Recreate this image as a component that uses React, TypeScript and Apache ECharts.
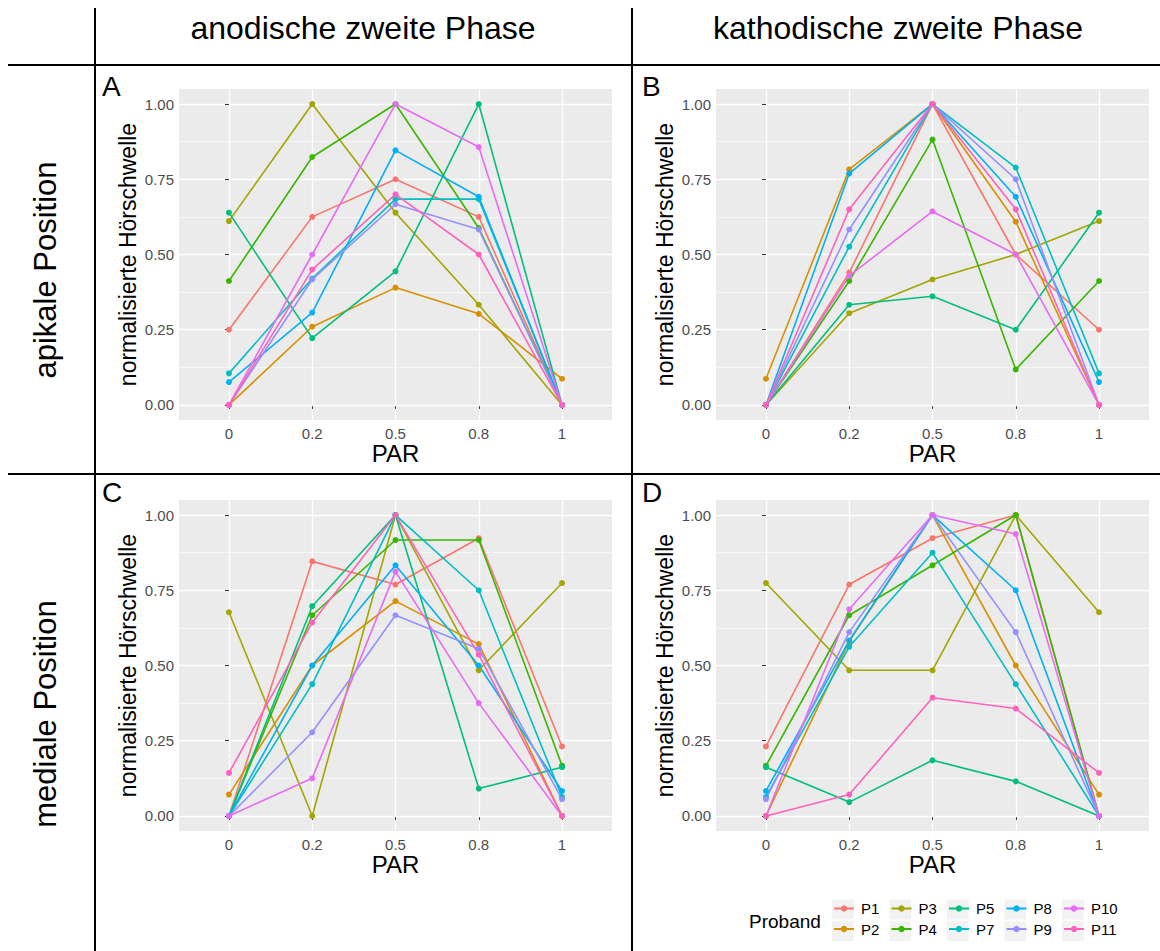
import React, { useEffect, useRef } from "react";
import * as echarts from "echarts";

const parLabels = ["0", "0.2", "0.5", "0.8", "1"];
const probands = ["P1", "P2", "P3", "P4", "P5", "P7", "P8", "P9", "P10", "P11"];
const colors = ["#F8766D", "#D89000", "#A3A500", "#39B600", "#00BF7D", "#00BFC4", "#00B0F6", "#9590FF", "#E76BF3", "#FF62BC"];
const yMajor = [0, 0.25, 0.5, 0.75, 1];
const yMinor = [0.125, 0.375, 0.625, 0.875];

// A: anodische zweite Phase, apikale Position
const anodApikal: number[][] = [
  [0.25, 0.625, 0.75, 0.625, 0],
  [0, 0.26, 0.39, 0.303, 0.087],
  [0.611, 1.0, 0.639, 0.333, 0],
  [0.412, 0.824, 1.0, 0.588, 0],
  [0.639, 0.222, 0.444, 1.0, 0],
  [0.105, 0.42, 0.684, 0.684, 0],
  [0.076, 0.307, 0.846, 0.692, 0],
  [0, 0.417, 0.667, 0.583, 0],
  [0, 0.5, 1.0, 0.857, 0],
  [0, 0.45, 0.7, 0.5, 0],
];
// B: kathodische zweite Phase, apikale Position
const kathApikal: number[][] = [
  [0, 0.44, 1.0, 0.5, 0.25],
  [0.087, 0.783, 1.0, 0.609, 0],
  [0, 0.305, 0.417, 0.5, 0.611],
  [0, 0.412, 0.882, 0.118, 0.412],
  [0, 0.333, 0.361, 0.25, 0.639],
  [0, 0.526, 1.0, 0.789, 0.105],
  [0, 0.769, 1.0, 0.692, 0.076],
  [0, 0.583, 1.0, 0.75, 0],
  [0, 0.429, 0.643, 0.5, 0],
  [0, 0.65, 1.0, 0.65, 0],
];
// C: anodische zweite Phase, mediale Position
const anodMedial: number[][] = [
  [0, 0.846, 0.769, 0.923, 0.231],
  [0.071, 0.5, 0.714, 0.571, 0],
  [0.677, 0, 1.0, 0.484, 0.774],
  [0, 0.667, 0.917, 0.917, 0.167],
  [0, 0.697, 1.0, 0.091, 0.162],
  [0, 0.438, 1.0, 0.75, 0.063],
  [0, 0.5, 0.833, 0.5, 0.083],
  [0, 0.278, 0.667, 0.556, 0.056],
  [0, 0.125, 0.812, 0.375, 0],
  [0.143, 0.643, 1.0, 0.536, 0],
];
// D: kathodische zweite Phase, mediale Position
const kathMedial: number[][] = [
  [0.231, 0.769, 0.923, 1.0, 0],
  [0, 0.58, 1.0, 0.5, 0.071],
  [0.774, 0.484, 0.484, 1.0, 0.677],
  [0.167, 0.667, 0.833, 1.0, 0],
  [0.162, 0.046, 0.185, 0.115, 0],
  [0.063, 0.562, 0.875, 0.438, 0],
  [0.083, 0.583, 1.0, 0.75, 0],
  [0.056, 0.611, 1.0, 0.611, 0],
  [0, 0.687, 1.0, 0.937, 0],
  [0, 0.071, 0.393, 0.357, 0.143],
];

const panels = [anodApikal, kathApikal, anodMedial, kathMedial];
const panelLetters = ["A", "B", "C", "D"];
const colTitles = ["anodische zweite Phase", "kathodische zweite Phase"];
const rowTitles = ["apikale Position", "mediale Position"];

const FONT = "'Liberation Sans', Arial, Helvetica, sans-serif";

const gridLefts = [179, 716];
const gridTops = [89, 500];
const GW = 433;
const GH = 331;

export default function App() {
  const ref = useRef<HTMLDivElement>(null);

  useEffect(() => {
    if (!ref.current) return;
    const chart = echarts.init(ref.current, null, { renderer: "svg" });

    const grids: any[] = [];
    const xAxes: any[] = [];
    const yAxes: any[] = [];
    const series: any[] = [];

    panels.forEach((panel, p) => {
      const col = p % 2;
      const row = Math.floor(p / 2);
      grids.push({
        left: gridLefts[col],
        top: gridTops[row],
        width: GW,
        height: GH,
        show: true,
        backgroundColor: "#EBEBEB",
        borderWidth: 0,
      });
      xAxes.push({
        type: "value",
        gridIndex: p,
        min: -0.6,
        max: 4.6,
        name: "PAR",
        nameLocation: "middle",
        nameGap: 21,
        nameTextStyle: { fontSize: 24, color: "#000", fontFamily: FONT },
        axisLine: { show: false },
        axisTick: { show: true, length: 4, customValues: [0, 1, 2, 3, 4], lineStyle: { color: "#333", width: 1 } },
        axisLabel: {
          customValues: [0, 1, 2, 3, 4],
          formatter: (v: number) => parLabels[Math.round(v)] ?? "",
          color: "#4D4D4D",
          fontSize: 15,
          margin: 6,
          fontFamily: FONT,
        },
        splitLine: { show: true, lineStyle: { color: "#FFFFFF", width: 1.3 } },
      });
      yAxes.push({
        type: "value",
        gridIndex: p,
        min: -0.05,
        max: 1.05,
        name: "normalisierte Hörschwelle",
        nameLocation: "middle",
        nameRotate: 90,
        nameGap: 40,
        nameTextStyle: { fontSize: 23, color: "#000", fontFamily: FONT },
        axisLine: { show: false },
        axisTick: { show: true, length: 4, customValues: yMajor, lineStyle: { color: "#333", width: 1 } },
        axisLabel: {
          customValues: yMajor,
          formatter: (v: number) => v.toFixed(2),
          color: "#4D4D4D",
          fontSize: 15,
          margin: 5,
          fontFamily: FONT,
        },
        splitLine: { show: true, lineStyle: { color: "#FFFFFF", width: 1.3 } },
        z: 3,
      });
      yAxes.push({
        type: "value",
        gridIndex: p,
        min: -0.05,
        max: 1.05,
        position: "left",
        axisLine: { show: false },
        axisTick: { show: false, customValues: yMinor },
        axisLabel: { show: false, customValues: yMinor },
        splitLine: { show: true, lineStyle: { color: "#FFFFFF", width: 0.6 } },
        z: 2,
      });
      panel.forEach((vals, i) => {
        series.push({
          type: "line",
          name: probands[i],
          xAxisIndex: p,
          yAxisIndex: p * 2,
          data: vals.map((v, k) => [k, v]),
          symbol: "circle",
          symbolSize: 6,
          color: colors[i],
          lineStyle: { width: 1.6, color: colors[i] },
          itemStyle: { color: colors[i] },
          emphasis: { disabled: true },
          z: 5,
        });
      });
    });

    const legendLeft0 = 833;
    const legendPitch = 57.5;
    const legendTop = 901;
    const legends: any[] = [];
    const keyRects: any[] = [];
    for (let c = 0; c < 5; c++) {
      legends.push({
        orient: "vertical",
        left: legendLeft0 + legendPitch * c,
        top: legendTop,
        itemWidth: 20,
        itemHeight: 8,
        itemGap: 5.5,
        padding: 0,
        data: [probands[c * 2], probands[c * 2 + 1]],
        textStyle: { fontSize: 15, color: "#000", fontFamily: FONT, padding: [0, 0, 0, 2] },
        selectedMode: false,
      });
      for (let r = 0; r < 2; r++) {
        keyRects.push({
          type: "rect",
          shape: { x: legendLeft0 - 1 + legendPitch * c, y: 899.5 + r * 21.7, width: 21.7, height: 20 },
          style: { fill: "#F2F2F2" },
          z: -1,
          silent: true,
        });
      }
    }

    const lineStyle = { stroke: "#000", lineWidth: 2 };
    const graphics: any[] = [
      { type: "line", shape: { x1: 95, y1: 8, x2: 95, y2: 951 }, style: lineStyle },
      { type: "line", shape: { x1: 632, y1: 8, x2: 632, y2: 951 }, style: lineStyle },
      { type: "line", shape: { x1: 8, y1: 65, x2: 1160, y2: 65 }, style: lineStyle },
      { type: "line", shape: { x1: 8, y1: 474, x2: 1160, y2: 474 }, style: lineStyle },
      {
        type: "text", x: 363, y: 28,
        style: { text: colTitles[0], fontSize: 32, fill: "#000", font: `32px ${FONT}`, align: "center", verticalAlign: "middle" },
      },
      {
        type: "text", x: 898, y: 28,
        style: { text: colTitles[1], fontSize: 32, fill: "#000", font: `32px ${FONT}`, align: "center", verticalAlign: "middle" },
      },
      {
        type: "text", x: 45, y: 270, rotation: Math.PI / 2,
        style: { text: rowTitles[0], fontSize: 31, fill: "#000", font: `31px ${FONT}`, align: "center", verticalAlign: "middle" },
      },
      {
        type: "text", x: 45, y: 714, rotation: Math.PI / 2,
        style: { text: rowTitles[1], fontSize: 31, fill: "#000", font: `31px ${FONT}`, align: "center", verticalAlign: "middle" },
      },
      {
        type: "text", x: 749, y: 921,
        style: { text: "Proband", fontSize: 19, fill: "#000", font: `19px ${FONT}`, align: "left", verticalAlign: "middle" },
      },
      ...keyRects,
    ];
    panelLetters.forEach((l, p) => {
      const col = p % 2;
      const row = Math.floor(p / 2);
      graphics.push({
        type: "text",
        x: col === 0 ? 102 : 642,
        y: row === 0 ? 86 : 492,
        style: { text: l, fontSize: 28, fill: "#000", font: `28px ${FONT}`, align: "left", verticalAlign: "middle" },
      });
    });

    chart.setOption({
      animation: false,
      backgroundColor: "#FFFFFF",
      textStyle: { fontFamily: FONT },
      grid: grids,
      xAxis: xAxes,
      yAxis: yAxes,
      series,
      legend: legends,
      graphic: graphics,
    });

    return () => chart.dispose();
  }, []);

  return (
    <div
      ref={ref}
      style={{ position: "fixed", left: 0, top: 0, width: 1160, height: 951, background: "#fff" }}
    />
  );
}
